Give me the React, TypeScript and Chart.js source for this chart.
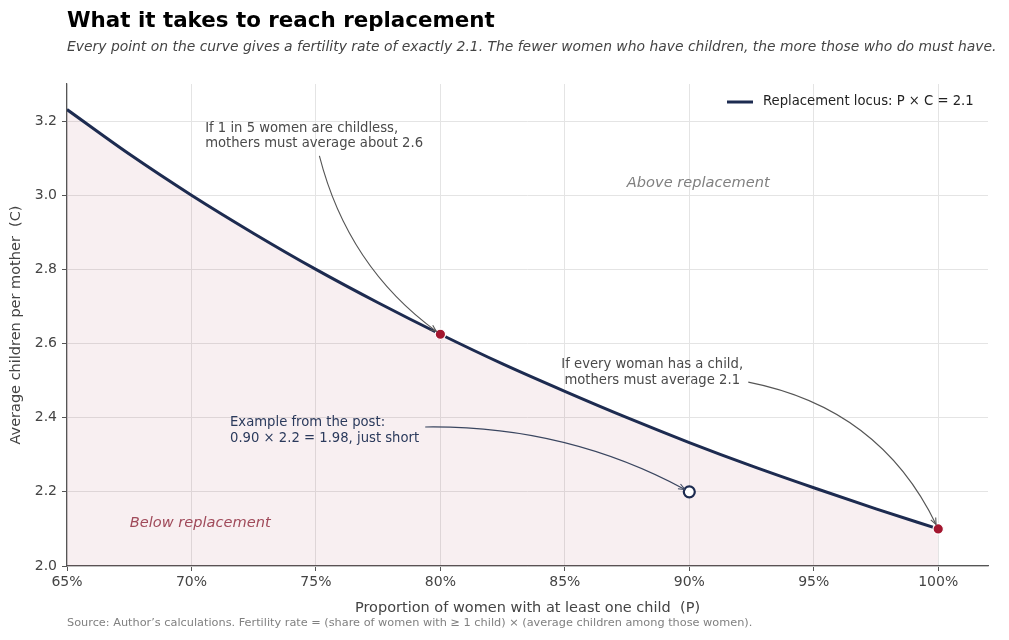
import React, { useEffect, useRef } from "react";
import { Chart, registerables } from "chart.js";

Chart.register(...registerables);

// Replacement locus: share of women with at least one child (P) vs. children per mother (C)
const shareWithChild = [0.65, 0.675, 0.7, 0.725, 0.75, 0.775, 0.8, 0.825, 0.85, 0.875, 0.9, 0.925, 0.95, 0.975, 1.0];
const childrenPerMother = [3.231, 3.111, 3.0, 2.897, 2.8, 2.71, 2.625, 2.545, 2.471, 2.4, 2.333, 2.27, 2.211, 2.154, 2.1];

// Highlighted points on the locus
const markedShare = [0.8, 1.0];
const markedChildren = [2.625, 2.1];

// Example from the post (below the locus)
const exampleShare = [0.9];
const exampleChildren = [2.2];

const xTicks = [0.65, 0.7, 0.75, 0.8, 0.85, 0.9, 0.95, 1.0];
const yTicks = [2.0, 2.2, 2.4, 2.6, 2.8, 3.0, 3.2];

const FONT = "'DejaVu Sans', 'Noto Sans', sans-serif";
const NAVY = "#1d2b50";
const RED = "#a3162f";

type Note = {
  lines: string[];
  x: number;
  y: number;
  align: CanvasTextAlign;
  color: string;
  from: [number, number];
  to: [number, number];
  rad: number;
  arrowColor: string;
};

const notes: Note[] = [
  {
    lines: ["If 1 in 5 women are childless,", "mothers must average about 2.6"],
    x: 0.7055, y: 3.181, align: "left", color: "#4a4a4a",
    from: [0.7514, 3.106], to: [0.8, 2.625], rad: -0.18, arrowColor: "#555555",
  },
  {
    lines: ["If every woman has a child,", "mothers must average 2.1"],
    x: 0.8851, y: 2.542, align: "center", color: "#4a4a4a",
    from: [0.9237, 2.496], to: [1.0, 2.1], rad: 0.25, arrowColor: "#555555",
  },
  {
    lines: ["Example from the post:", "0.90 \u00d7 2.2 = 1.98, just short"],
    x: 0.7155, y: 2.386, align: "left", color: "#2b3a5c",
    from: [0.7939, 2.375], to: [0.9, 2.2], rad: 0.13, arrowColor: "#3a4660",
  },
];

const overlay = {
  id: "overlay",
  afterDraw(chart: any) {
    const { ctx, chartArea, scales } = chart;
    const xs = scales.x;
    const ys = scales.y;
    ctx.save();

    // Region labels
    ctx.textAlign = "center";
    ctx.textBaseline = "middle";
    ctx.font = `italic 14.6px ${FONT}`;
    ctx.fillStyle = "#808080";
    ctx.fillText("Above replacement", xs.getPixelForValue(0.9036), ys.getPixelForValue(3.033));
    ctx.fillStyle = "#a04a5a";
    ctx.fillText("Below replacement", xs.getPixelForValue(0.7035), ys.getPixelForValue(2.116));

    // Annotations with curved arrows
    for (const n of notes) {
      ctx.font = `13.2px ${FONT}`;
      ctx.fillStyle = n.color;
      ctx.textAlign = n.align;
      ctx.textBaseline = "middle";
      const tx = xs.getPixelForValue(n.x);
      const ty = ys.getPixelForValue(n.y);
      n.lines.forEach((l, i) => ctx.fillText(l, tx, ty + i * 15.5));

      const x0 = xs.getPixelForValue(n.from[0]);
      const y0 = ys.getPixelForValue(n.from[1]);
      const px = xs.getPixelForValue(n.to[0]);
      const py = ys.getPixelForValue(n.to[1]);
      const dx = px - x0;
      const dy = py - y0;
      const cx = (x0 + px) / 2 + n.rad * dy;
      const cy = (y0 + py) / 2 - n.rad * dx;
      // pull the tip back from the target point
      const ex = px - cx;
      const ey = py - cy;
      const el = Math.hypot(ex, ey);
      const x1 = px - (ex / el) * 5;
      const y1 = py - (ey / el) * 5;
      ctx.strokeStyle = n.arrowColor;
      ctx.lineWidth = 1.1;
      ctx.beginPath();
      ctx.moveTo(x0, y0);
      ctx.quadraticCurveTo(cx, cy, x1, y1);
      ctx.stroke();
      const ang = Math.atan2(y1 - cy, x1 - cx);
      const h = 7;
      ctx.beginPath();
      ctx.moveTo(x1 - h * Math.cos(ang - 0.4), y1 - h * Math.sin(ang - 0.4));
      ctx.lineTo(x1, y1);
      ctx.lineTo(x1 - h * Math.cos(ang + 0.4), y1 - h * Math.sin(ang + 0.4));
      ctx.stroke();
    }

    // Legend
    ctx.strokeStyle = NAVY;
    ctx.lineWidth = 3;
    ctx.beginPath();
    ctx.moveTo(727, 102);
    ctx.lineTo(753, 102);
    ctx.stroke();
    ctx.font = `13.2px ${FONT}`;
    ctx.fillStyle = "#222";
    ctx.textAlign = "left";
    ctx.textBaseline = "middle";
    ctx.fillText("Replacement locus: P \u00d7 C = 2.1", 763, 102);

    // Title and subtitle
    ctx.textBaseline = "alphabetic";
    ctx.fillStyle = "#000";
    ctx.font = `bold 21.4px ${FONT}`;
    ctx.fillText("What it takes to reach replacement", 67, 27);
    ctx.fillStyle = "#444";
    ctx.font = `italic 13.9px ${FONT}`;
    ctx.fillText(
      "Every point on the curve gives a fertility rate of exactly 2.1. The fewer women who have children, the more those who do must have.",
      67,
      51
    );

    // Axis titles
    ctx.fillStyle = "#444";
    ctx.font = `14.5px ${FONT}`;
    ctx.textAlign = "center";
    ctx.textBaseline = "middle";
    ctx.fillText("Proportion of women with at least one child  (P)", (chartArea.left + chartArea.right) / 2, 608);
    ctx.save();
    ctx.translate(16, (chartArea.top + chartArea.bottom) / 2);
    ctx.rotate(-Math.PI / 2);
    ctx.fillText("Average children per mother  (C)", 0, 0);
    ctx.restore();

    // Source line
    ctx.fillStyle = "#808080";
    ctx.font = `11.3px ${FONT}`;
    ctx.textAlign = "left";
    ctx.fillText(
      "Source: Author\u2019s calculations. Fertility rate = (share of women with \u2265 1 child) \u00d7 (average children among those women).",
      67,
      623
    );

    ctx.restore();
  },
};

export default function App() {
  const canvasRef = useRef<HTMLCanvasElement | null>(null);

  useEffect(() => {
    if (!canvasRef.current) return;
    const chart = new Chart(canvasRef.current, {
      type: "line",
      data: {
        datasets: [
          {
            type: "scatter",
            label: "Example",
            data: exampleShare.map((x, i) => ({ x, y: exampleChildren[i] })),
            pointRadius: 5.5,
            pointBackgroundColor: "#ffffff",
            pointBorderColor: NAVY,
            pointBorderWidth: 2.2,
            showLine: false,
          },
          {
            type: "scatter",
            label: "Marked",
            data: markedShare.map((x, i) => ({ x, y: markedChildren[i] })),
            pointRadius: 5.2,
            pointBackgroundColor: RED,
            pointBorderColor: "#ffffff",
            pointBorderWidth: 1.2,
            showLine: false,
          },
          {
            label: "Replacement locus: P \u00d7 C = 2.1",
            data: shareWithChild.map((x, i) => ({ x, y: childrenPerMother[i] })),
            borderColor: NAVY,
            borderWidth: 3,
            pointRadius: 0,
            cubicInterpolationMode: "monotone",
            fill: "start",
            backgroundColor: "rgba(160, 30, 60, 0.07)",
          },
        ],
      },
      options: {
        animation: false,
        responsive: false,
        events: [],
        layout: { padding: { top: 84, right: 21, left: 0, bottom: 0 } },
        plugins: {
          legend: { display: false },
          tooltip: { enabled: false },
        },
        scales: {
          x: {
            type: "linear",
            min: 0.65,
            max: 1.02,
            afterBuildTicks: (s: any) => {
              s.ticks = xTicks.map((value) => ({ value }));
            },
            afterFit: (s: any) => {
              s.height = 74;
            },
            ticks: {
              callback: (v: any) => `${Math.round(Number(v) * 100)}%`,
              color: "#444",
              font: { family: FONT, size: 14 },
              padding: 3,
              maxRotation: 0,
            },
            grid: { color: "#e4e4e4", lineWidth: 1, tickLength: 5, tickColor: "#555", drawTicks: true },
            border: { color: "#555", width: 1.2 },
          },
          y: {
            type: "linear",
            min: 2.0,
            max: 3.3,
            afterBuildTicks: (s: any) => {
              s.ticks = yTicks.map((value) => ({ value }));
            },
            afterFit: (s: any) => {
              s.width = 67;
            },
            ticks: {
              callback: (v: any) => Number(v).toFixed(1),
              color: "#444",
              font: { family: FONT, size: 14 },
              padding: 5,
            },
            grid: { color: "#e4e4e4", lineWidth: 1, tickLength: 5, tickColor: "#555", drawTicks: true },
            border: { color: "#555", width: 1.2 },
          },
        },
      },
      plugins: [overlay],
    });
    return () => chart.destroy();
  }, []);

  return (
    <div style={{ position: "fixed", left: 0, top: 0, width: 1009, height: 640, background: "#fff" }}>
      <canvas ref={canvasRef} width={1009} height={640} style={{ display: "block" }} />
    </div>
  );
}
